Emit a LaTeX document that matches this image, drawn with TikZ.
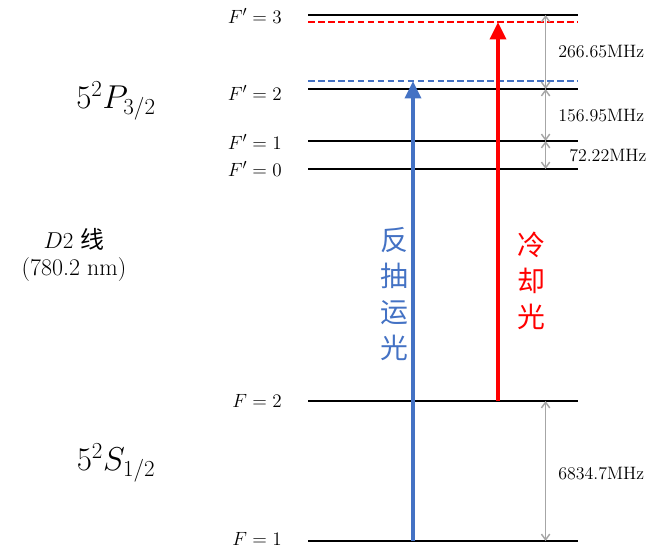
\documentclass[tikz,border=0pt]{standalone}
\usepackage{fontspec}
\newfontfamily\cjk{Noto Sans CJK SC}
\usetikzlibrary{arrows.meta,positioning,calc}
\definecolor{pumpblue}{HTML}{4472C4}
\definecolor{coolred}{HTML}{FF0000}
\definecolor{spangray}{HTML}{A6A6A6}
\tikzset{
  level/.style={line width=2.2pt, black},
  shiftlevel/.style={line width=1.1pt, dash pattern=on 5pt off 2.5pt},
  beam/.style={-{Triangle[length=4.6mm,width=4.2mm]}, line width=3pt},
  span/.style={{Straight Barb[length=1.5mm,width=2.2mm]}-{Straight Barb[length=1.5mm,width=2.2mm]}, line width=1.1pt, spangray},
  lvllbl/.style={anchor=east, inner sep=0pt, font=\fontsize{15.5}{17}\selectfont},
  freq/.style={anchor=west, inner sep=0pt, font=\fontsize{13.5}{15}\selectfont},
  term/.style={inner sep=0pt, font=\fontsize{23.5}{26}\selectfont},
  vlabel/.style={inner sep=0pt, align=center, font=\cjk\fontsize{21}{27}\selectfont}
}
\begin{document}
\begin{tikzpicture}[x=0.02646cm, y=-0.02646cm]
\useasboundingbox (0,0) rectangle (651,548);
% ---- hyperfine levels ----
\foreach \name/\yy in {Fp3/15, Fp2/89, Fp1/141, Fp0/169, F2/401, F1/541} {
  \coordinate (\name l) at (308,\yy);
  \coordinate (\name r) at (578,\yy);
  \draw[level] (\name l) -- (\name r);
}
% detuned levels
\coordinate (redl) at (308,22);  \coordinate (redr) at (578,22);
\coordinate (bluel) at (308,81); \coordinate (bluer) at (578,81);
\draw[shiftlevel, coolred] (redl) -- (redr);
\draw[shiftlevel, pumpblue] (bluel) -- (bluer);
% ---- level labels ----
\node[lvllbl] (lFp3) at (282,16) {$F'=3$};
\node[lvllbl] (lFp2) at (282,93) {$F'=2$};
\node[lvllbl] (lFp1) at (282,142) {$F'=1$};
\node[lvllbl] (lFp0) at (282,169) {$F'=0$};
\node[lvllbl] (lF2) at (282,401) {$F=2$};
\node[lvllbl] (lF1) at (282,539) {$F=1$};
\node[term] (termP) at (116,101) {$5^2P_{3/2}$};
\node[term] (termS) at (116,463) {$5^2S_{1/2}$};
\node[inner sep=0pt, align=center, font=\fontsize{18}{20}\selectfont] (line) at (74,255) {$D2$ {\cjk 线}\\(780.2 nm)};
% ---- laser beams ----
\coordinate (pumpbot) at (413,541);
\coordinate (pumptop) at (413,81);
\coordinate (coolbot) at (498,401);
\coordinate (cooltop) at (498,22);
\draw[beam, pumpblue] (pumpbot) -- (pumptop);
\draw[beam, coolred] (coolbot) -- (cooltop);
\node[vlabel, text=pumpblue] (pumplbl) at (394,294) {反\\抽\\运\\光};
\node[vlabel, text=coolred] (coollbl) at (531,281) {冷\\却\\光};
% ---- splittings ----
\foreach \a/\b/\yy/\xx/\txt in {Fp3/Fp2/52/558/266.65MHz, Fp2/Fp1/116/558/156.95MHz, Fp1/Fp0/156/569/72.22MHz, F2/F1/474/558/6834.7MHz} {
  \draw[span] ($(\a l)!0.88!(\a r)$) -- ($(\b l)!0.88!(\b r)$);
  \node[freq] (f\a) at (\xx,\yy) {\txt};
}
\end{tikzpicture}
\end{document}
